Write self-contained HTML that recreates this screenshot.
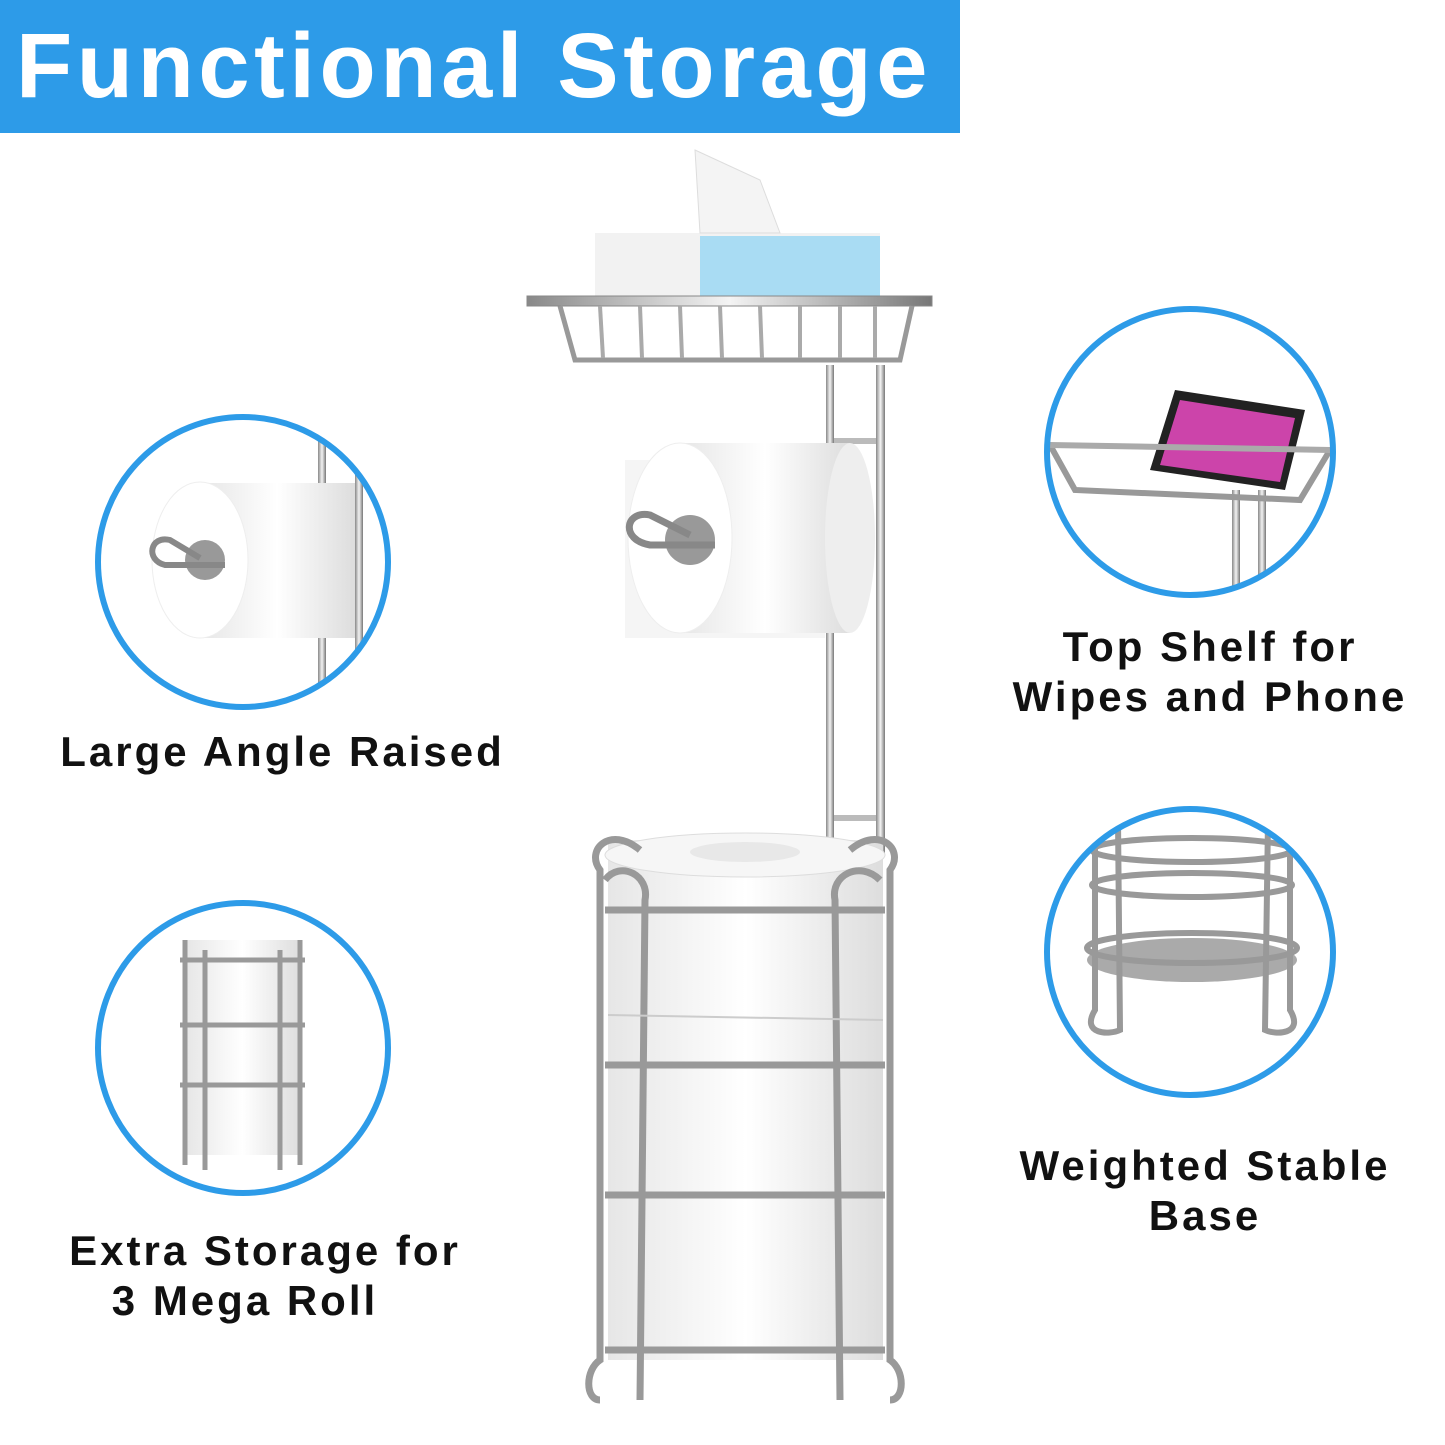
<!DOCTYPE html>
<html><head><meta charset="utf-8"><style>
html,body{margin:0;padding:0;background:#fff}
body{width:1445px;height:1445px;position:relative;overflow:hidden;font-family:"Liberation Sans",sans-serif}
.hdr{position:absolute;left:0;top:0;width:960px;height:133px;background:#2d9be8;color:#fff;font-weight:bold;font-size:92px;line-height:133px;padding-left:16px;box-sizing:border-box;letter-spacing:4.6px;white-space:nowrap}
.lbl{position:absolute;font-weight:bold;font-size:42px;color:#111;text-align:center;line-height:50px;white-space:nowrap;letter-spacing:3px}
</style></head><body>
<div class="hdr">Functional Storage</div>
<svg width="1445" height="1445" style="position:absolute;left:0;top:0">
<defs>
<linearGradient id="ch" x1="0" x2="1"><stop offset="0" stop-color="#888"/><stop offset=".5" stop-color="#f4f4f4"/><stop offset="1" stop-color="#777"/></linearGradient>
<linearGradient id="roll" x1="0" x2="1"><stop offset="0" stop-color="#e6e6e6"/><stop offset=".5" stop-color="#fff"/><stop offset="1" stop-color="#ddd"/></linearGradient>
<clipPath id="c1"><circle cx="243" cy="562" r="145"/></clipPath>
<clipPath id="c2"><circle cx="243" cy="1048" r="145"/></clipPath>
<clipPath id="c3"><circle cx="1190" cy="452" r="143"/></clipPath>
<clipPath id="c4"><circle cx="1190" cy="952" r="143"/></clipPath>
</defs>
<rect x="595" y="233" width="285" height="67" fill="#f2f2f2"/>
<rect x="700" y="236" width="180" height="64" fill="#a9dcf3"/>
<path d="M695 150 L760 180 L780 233 L700 233 Z" fill="#f4f4f4" stroke="#ddd"/>
<rect x="527" y="296" width="405" height="10" fill="url(#ch)" stroke="#888"/>
<path d="M560 306 L575 360 L900 360 L912 306" fill="none" stroke="#999" stroke-width="5"/>
<g stroke="#aaa" stroke-width="4">
<line x1="600" y1="306" x2="603" y2="358"/><line x1="640" y1="306" x2="642" y2="358"/><line x1="680" y1="306" x2="682" y2="358"/><line x1="720" y1="306" x2="722" y2="358"/><line x1="760" y1="306" x2="762" y2="358"/><line x1="800" y1="306" x2="800" y2="358"/><line x1="840" y1="306" x2="840" y2="358"/><line x1="875" y1="306" x2="875" y2="358"/></g>
<rect x="826" y="365" width="8" height="475" fill="url(#ch)"/>
<rect x="876" y="365" width="9" height="490" fill="url(#ch)"/>
<rect x="834" y="438" width="42" height="6" fill="#bbb"/><rect x="834" y="815" width="42" height="6" fill="#bbb"/>
<rect x="625" y="460" width="200" height="178" fill="#f5f5f5"/>
<rect x="680" y="443" width="170" height="190" fill="url(#roll)"/>
<ellipse cx="680" cy="538" rx="52" ry="95" fill="#fff" stroke="#eee"/>
<ellipse cx="850" cy="538" rx="25" ry="95" fill="#eee"/>
<circle cx="690" cy="540" r="25" fill="#999"/>
<path d="M715 545 L650 545 C620 540 625 510 650 515 L690 535" fill="none" stroke="#888" stroke-width="7"/>
<rect x="608" y="840" width="275" height="520" fill="url(#roll)"/>
<ellipse cx="745" cy="855" rx="140" ry="22" fill="#f6f6f6" stroke="#ddd"/>
<ellipse cx="745" cy="852" rx="55" ry="10" fill="#e8e8e8"/>
<g fill="none" stroke="#999" stroke-width="7">
<path d="M600 1400 C585 1400 585 1370 600 1360 L600 870 C585 850 610 825 640 850"/>
<path d="M890 1400 C905 1400 905 1370 890 1360 L890 870 C905 850 880 825 850 850"/>
<path d="M640 1400 L645 900 C650 875 620 860 605 880"/>
<path d="M840 1400 L835 900 C830 875 860 860 880 880"/>
<line x1="605" y1="910" x2="885" y2="910"/><line x1="605" y1="1065" x2="885" y2="1065"/><line x1="605" y1="1195" x2="885" y2="1195"/><line x1="605" y1="1350" x2="885" y2="1350"/>
</g>
<line x1="608" y1="1015" x2="883" y2="1020" stroke="#ccc" stroke-width="2"/>
<g clip-path="url(#c1)"><rect x="90" y="410" width="310" height="310" fill="#fff"/>
<rect x="318" y="430" width="8" height="280" fill="url(#ch)"/><rect x="355" y="430" width="8" height="280" fill="url(#ch)"/>
<rect x="200" y="483" width="155" height="155" fill="url(#roll)"/><ellipse cx="200" cy="560" rx="48" ry="78" fill="#fff" stroke="#eee"/>
<circle cx="205" cy="560" r="20" fill="#999"/><path d="M225 565 L165 565 C145 560 150 535 170 540 L200 558" fill="none" stroke="#888" stroke-width="6"/></g>
<circle cx="243" cy="562" r="145" fill="none" stroke="#2d9be8" stroke-width="6"/>
<g clip-path="url(#c2)"><rect x="90" y="900" width="310" height="310" fill="#fff"/>
<rect x="185" y="940" width="115" height="215" fill="url(#roll)"/>
<g fill="none" stroke="#999" stroke-width="5"><line x1="185" y1="940" x2="185" y2="1165"/><line x1="300" y1="940" x2="300" y2="1165"/><line x1="205" y1="950" x2="205" y2="1170"/><line x1="280" y1="950" x2="280" y2="1170"/>
<line x1="180" y1="960" x2="305" y2="960"/><line x1="180" y1="1025" x2="305" y2="1025"/><line x1="180" y1="1085" x2="305" y2="1085"/></g></g>
<circle cx="243" cy="1048" r="145" fill="none" stroke="#2d9be8" stroke-width="6"/>
<g clip-path="url(#c3)"><rect x="1040" y="300" width="300" height="300" fill="#fff"/>
<rect x="1232" y="490" width="8" height="120" fill="url(#ch)"/><rect x="1258" y="490" width="8" height="120" fill="url(#ch)"/>
<path d="M1175 390 L1305 410 L1285 490 L1150 470 Z" fill="#222"/><path d="M1180 400 L1295 418 L1280 482 L1160 465 Z" fill="#c4a"/>
<path d="M1050 445 L1075 490 L1300 500 L1330 450" fill="none" stroke="#999" stroke-width="6"/>
<line x1="1050" y1="445" x2="1330" y2="450" stroke="#aaa" stroke-width="6"/></g>
<circle cx="1190" cy="452" r="143" fill="none" stroke="#2d9be8" stroke-width="6"/>
<g clip-path="url(#c4)"><rect x="1040" y="800" width="300" height="300" fill="#fff"/>
<ellipse cx="1192" cy="960" rx="105" ry="22" fill="#aaa"/>
<g fill="none" stroke="#999" stroke-width="6"><path d="M1095 820 L1095 1010 C1080 1035 1110 1035 1120 1030 L1118 820"/><path d="M1290 820 L1290 1010 C1305 1035 1275 1035 1265 1030 L1268 820"/>
<ellipse cx="1192" cy="850" rx="100" ry="12"/><ellipse cx="1192" cy="885" rx="100" ry="12"/><ellipse cx="1192" cy="948" rx="105" ry="15"/></g></g>
<circle cx="1190" cy="952" r="143" fill="none" stroke="#2d9be8" stroke-width="6"/>
</svg>
<div class="lbl" style="left:40px;width:485px;top:727px">Large Angle Raised</div>
<div class="lbl" style="left:40px;width:450px;top:1226px">Extra Storage for</div>
<div class="lbl" style="left:20px;width:450px;top:1276px">3 Mega Roll</div>
<div class="lbl" style="left:990px;width:440px;top:622px">Top Shelf for<br>Wipes and Phone</div>
<div class="lbl" style="left:990px;width:430px;top:1141px">Weighted Stable<br>Base</div>
</body></html>
